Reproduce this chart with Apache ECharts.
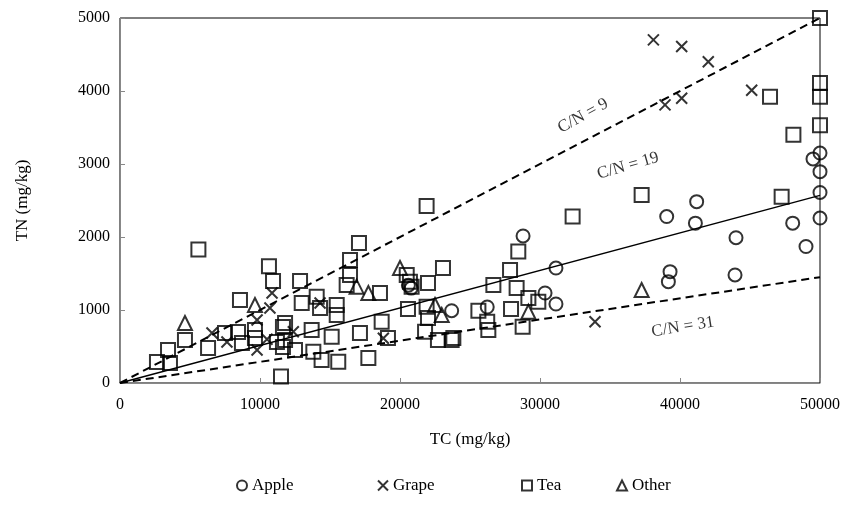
<!DOCTYPE html>
<html>
<head>
<meta charset="utf-8">
<script src="https://cdn.jsdelivr.net/npm/echarts@6/dist/echarts.min.js"></script>
<style>
  html, body { margin: 0; padding: 0; background: #fff; }
  #chart { width: 859px; height: 507px; }
</style>
</head>
<body>
<div id="chart"></div>
<script>
// TC / TN pairs (mg/kg)
const apple = [
  [20600, 1340], [20800, 1300], [23690, 990], [26230, 1041], [28790, 2014],
  [30360, 1233], [31140, 1575], [31140, 1082], [39050, 2280], [41190, 2484],
  [41100, 2190], [39290, 1525], [39170, 1388], [43930, 1480], [44000, 1990],
  [48050, 2190], [49000, 1870], [50000, 2260], [50000, 2610], [50000, 2895],
  [50000, 3150], [49500, 3070]
]
const grape = [
  [38100, 4700], [40120, 4610], [42020, 4400], [38930, 3810], [40120, 3900],
  [45120, 4010], [33930, 840], [18810, 612], [14290, 1096], [12380, 703],
  [10860, 1233], [10710, 1027], [9790, 863], [9790, 452], [6570, 685],
  [7640, 562], [10500, 600]
]
const tea = [
  [50000, 5000], [50000, 4110], [50000, 3920], [50000, 3530], [46430, 3920],
  [48100, 3400], [47260, 2550], [37260, 2575], [32330, 2280], [21900, 2425],
  [17070, 1918], [16430, 1685], [16430, 1480], [16190, 1343], [18570, 1233],
  [12860, 1397], [14050, 1182], [14290, 1027], [15480, 1068], [15480, 932],
  [12980, 1096], [20480, 1480], [20710, 1388], [20830, 1320], [22000, 1370],
  [23070, 1575], [20570, 1014], [21900, 1045], [22000, 890], [21790, 703],
  [22710, 589], [23690, 589], [18690, 840], [19140, 616], [17140, 685],
  [15120, 634], [13810, 429], [14400, 315], [15590, 292], [17740, 343],
  [13690, 726], [11790, 822], [11790, 589], [12500, 452], [11500, 90],
  [10640, 1600], [10930, 1397], [8570, 1137], [5600, 1830], [4640, 589],
  [3430, 452], [2640, 288], [3570, 274], [6290, 480], [7500, 685],
  [8430, 699], [8710, 548], [9640, 726], [9640, 616], [11640, 767],
  [11210, 562], [11640, 493], [28450, 1800], [27860, 1548], [26670, 1343],
  [28330, 1300], [29170, 1164], [29880, 1114], [25600, 991], [27930, 1014],
  [26230, 840], [26310, 726], [28760, 771], [23810, 616]
]
const other = [
  [4640, 822], [9640, 1068], [16900, 1320], [17740, 1233], [20000, 1575],
  [22500, 1068], [22980, 932], [29170, 977], [37260, 1274]
]
// reference C/N lines as drawn
const cn9 = [[0, 0], [50000, 5000]]
const cn19 = [[0, 0], [50000, 2570]]
const cn31 = [[0, 0], [50000, 1450]]
const lineLabels = [
  { name: 'C/N = 9', value: [33070, 3660], rotate: 29 },
  { name: 'C/N = 19', value: [36290, 2975], rotate: 16 },
  { name: 'C/N = 31', value: [40210, 767], rotate: 9 }
]

const font = 'Liberation Serif'
const crossPath = 'path://M0,0L10,10M10,0L0,10'

const hollow = {
  color: 'rgba(0,0,0,0)',
  borderColor: '#000',
  borderWidth: 2
}

function pointSeries (name, data, symbol, size) {
  return {
    name: name,
    type: 'scatter',
    data: data,
    symbol: symbol,
    symbolSize: size,
    itemStyle: hollow,
    z: 3
  }
}

function refLine (data, type, width) {
  return {
    type: 'line',
    data: data,
    symbol: 'none',
    silent: true,
    lineStyle: { color: '#000', type: type, width: width },
    z: 2
  }
}

// one legend per item so the uneven spacing of the original can be kept
function legendItem (name, icon, left) {
  return {
    bottom: 8,
    left: left,
    itemWidth: 10,
    itemHeight: 10,
    itemGap: 0,
    textStyle: { fontFamily: font, fontSize: 17, color: '#000' },
    data: [{ name: name, icon: icon }]
  }
}

const chart = echarts.init(document.getElementById('chart'))
chart.setOption({
  animation: false,
  textStyle: { fontFamily: font },
  grid: {
    left: 120, right: 39, top: 18, bottom: 124,
    show: true, borderColor: '#000', borderWidth: 1
  },
  xAxis: {
    type: 'value',
    min: 0, max: 50000, interval: 10000,
    name: 'TC (mg/kg)',
    nameLocation: 'middle',
    nameGap: 48,
    nameTextStyle: { fontFamily: font, fontSize: 17, color: '#000' },
    axisLine: { lineStyle: { color: '#888' } },
    axisTick: { inside: true, length: 5, lineStyle: { color: '#888' } },
    axisLabel: { fontFamily: font, fontSize: 16, color: '#000', margin: 14, formatter: v => String(v) },
    splitLine: { show: false }
  },
  yAxis: {
    type: 'value',
    min: 0, max: 5000, interval: 1000,
    name: 'TN (mg/kg)',
    nameLocation: 'middle',
    nameGap: 89,
    nameTextStyle: { fontFamily: font, fontSize: 17, color: '#000' },
    axisLine: { show: true, lineStyle: { color: '#888' } },
    axisTick: { show: true, inside: true, length: 5, lineStyle: { color: '#888' } },
    axisLabel: { fontFamily: font, fontSize: 16, color: '#000', margin: 10, formatter: v => String(v) },
    splitLine: { show: false }
  },
  legend: [
    legendItem('Apple', 'circle', 231),
    legendItem('Grape', crossPath, 372),
    legendItem('Tea', 'rect', 516),
    legendItem('Other', 'triangle', 611)
  ],
  series: [
    refLine(cn9, [8, 5], 2),
    refLine(cn19, 'solid', 1.5),
    refLine(cn31, [8, 5], 2),
    pointSeries('Apple', apple, 'circle', 13),
    pointSeries('Grape', grape, crossPath, 11),
    pointSeries('Tea', tea, 'rect', 14),
    pointSeries('Other', other, 'triangle', 14),
    {
      type: 'scatter',
      silent: true,
      symbolSize: 0,
      data: lineLabels.map(d => ({
        value: d.value,
        label: { rotate: d.rotate }
      })),
      label: {
        show: true,
        position: 'inside',
        fontFamily: font,
        fontSize: 17,
        color: '#000',
        formatter: p => lineLabels[p.dataIndex].name
      }
    }
  ]
})
</script>
</body>
</html>
